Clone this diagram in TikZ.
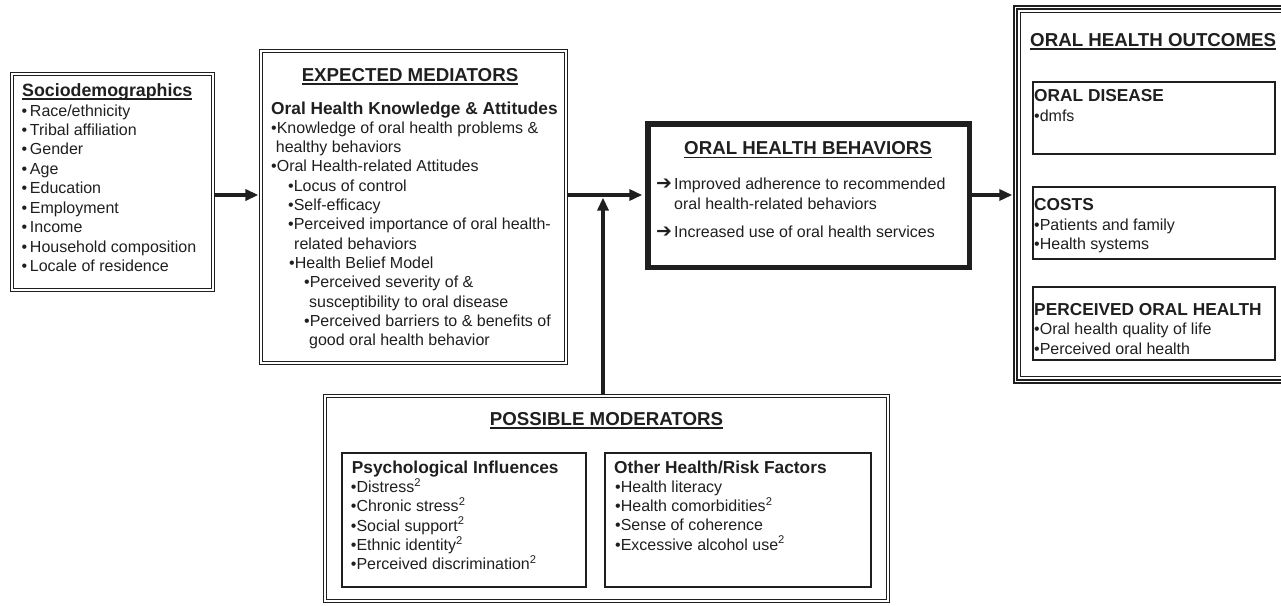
\documentclass[tikz,border=0pt]{standalone}
\usepackage{fontspec}
\setmainfont{Liberation Sans}
\newfontfamily\dvfont{DejaVu Sans}
\usetikzlibrary{arrows.meta}
\definecolor{ink}{gray}{0.12}
\newcommand\myul[1]{\setbox0\hbox{#1}\rlap{\rule[-3.6pt]{\wd0}{1.5pt}}\box0}
\begin{document}
\begin{tikzpicture}[x=1pt,y=-1pt,
  txt/.style={font=\fontsize{16}{19}\selectfont, text=ink, inner sep=0pt, anchor=base west},
  sub/.style={txt, font=\bfseries\fontsize{17.3}{20}\selectfont},
  ttl/.style={txt, anchor=base, font=\bfseries\fontsize{18.7}{22}\selectfont},
  glyph/.style={txt, font=\dvfont\bfseries\fontsize{19}{20}\selectfont},
  dblbox/.style={draw=ink, double=white, double distance=1.5pt, line width=1.2pt, inner sep=0pt},
  thickbox/.style={draw=ink, line width=5.5pt, inner sep=0pt},
  thinbox/.style={draw=ink, line width=1.2pt, inner sep=0pt},
  arr/.style={draw=ink, line width=4pt, -{Triangle[length=13pt,width=11pt]}}
]
\useasboundingbox (0,0) rectangle (1281,605);
\clip (0,0) rectangle (1281,605);

% ---------- boxes ----------
\node[dblbox, minimum width=201pt, minimum height=216pt] (soc) at (112.5,182) {};
\node[dblbox, minimum width=305pt, minimum height=312pt] (med) at (413.5,207) {};
\node[thickbox, minimum width=321.5pt, minimum height=143.5pt] (beh) at (808.5,195.5) {};
\node[draw=ink, line width=1.6pt, inner sep=0pt, minimum width=286pt, minimum height=377.4pt] (out) at (1156.9,194.5) {};
\draw[ink, line width=1.6pt] ([shift={(3.8,3.8)}]out.north west) rectangle ([shift={(-3.8,-3.8)}]out.south east);
\draw[ink, line width=1.1pt] ([shift={(7.4,7.4)}]out.north west) rectangle ([shift={(-7.4,-7.4)}]out.south east);
\node[thinbox, minimum width=242pt, minimum height=72pt] (od) at (1154,118) {};
\node[thinbox, minimum width=242pt, minimum height=72pt] (co) at (1154,223) {};
\node[thinbox, minimum width=242pt, minimum height=73pt] (po) at (1154,323.5) {};
\node[dblbox, minimum width=563pt, minimum height=205pt] (mod) at (606.5,498.5) {};
\node[thinbox, minimum width=244pt, minimum height=134pt] (psy) at (464,520) {};
\node[thinbox, minimum width=266pt, minimum height=134pt] (oth) at (738,520) {};

% ---------- Sociodemographics ----------
\node[txt, font=\bfseries\fontsize{17.8}{21}\selectfont] (soct) at (22,96) {\myul{Sociodemographics}};
\foreach \t [count=\i] in {{Race/ethnicity},{Tribal affiliation},{Gender},{Age},{Education},{Employment},{Income},{Household composition},{Locale of residence}}
  \node[txt] (soc\i) at (21.5,{116+19.45*(\i-1)}) {•\,\t};

% ---------- Expected mediators ----------
\node[ttl] (medt) at (410,81) {\myul{EXPECTED MEDIATORS}};
\node[sub] (meds) at (271,114) {Oral Health Knowledge \& Attitudes};
\foreach \xx/\t [count=\i] in {
  271/{•Knowledge of oral health problems \&},
  275.7/{healthy behaviors},
  271/{•Oral Health-related Attitudes},
  288/{•Locus of control},
  288/{•Self-efficacy},
  288/{•Perceived importance of oral health-},
  294/{related behaviors},
  289/{•Health Belief Model},
  304/{•Perceived severity of \&},
  309/{susceptibility to oral disease},
  304/{•Perceived barriers to \& benefits of},
  309/{good oral health behavior}}
  \node[txt] (med\i) at (\xx,{133+19.35*(\i-1)}) {\t};

% ---------- Oral health behaviors ----------
\node[ttl] (beht) at (808,154.5) {\myul{ORAL HEALTH BEHAVIORS}};
\node[glyph] (beha1) at (656,189.5) {➔};
\node[txt] (beh1) at (674,189.5) {Improved adherence to recommended};
\node[txt] (beh2) at (674,209.3) {oral health-related behaviors};
\node[glyph] (beha2) at (656,237.3) {➔};
\node[txt] (beh3) at (674,237.3) {Increased use of oral health services};

% ---------- Outcomes ----------
\node[ttl, anchor=base west] (outt) at (1030,46) {\myul{ORAL HEALTH OUTCOMES}};
\node[sub] (odt) at (1034,101.7) {ORAL DISEASE};
\node[txt] (od1) at (1034,121.7) {•dmfs};
\node[sub] (cot) at (1034,210) {COSTS};
\node[txt] (co1) at (1034,230) {•Patients and family};
\node[txt] (co2) at (1034,249) {•Health systems};
\node[sub] (pot) at (1034,315) {PERCEIVED ORAL HEALTH};
\node[txt] (po1) at (1034,334.5) {•Oral health quality of life};
\node[txt] (po2) at (1034,354) {•Perceived oral health};

% ---------- Moderators ----------
\node[ttl] (modt) at (606.5,425) {\myul{POSSIBLE MODERATORS}};
\node[sub] (psyt) at (351.7,473.5) {Psychological Influences};
\foreach \t [count=\i] in {{Distress},{Chronic stress},{Social support},{Ethnic identity},{Perceived discrimination}}
  \node[txt] (psy\i) at (350.7,{492.5+19.3*(\i-1)}) {•\t\textsuperscript{2}};
\node[sub] (otht) at (614,473) {Other Health/Risk Factors};
\node[txt] (oth1) at (615,492) {•Health literacy};
\node[txt] (oth2) at (615,511.4) {•Health comorbidities\textsuperscript{2}};
\node[txt] (oth3) at (615,530.8) {•Sense of coherence};
\node[txt] (oth4) at (615,550.2) {•Excessive alcohol use\textsuperscript{2}};

% ---------- connectors ----------
\coordinate (axis) at (0,195);
\coordinate (join) at (603,195);
\draw[arr, shorten >=2pt] (soc.east |- axis) -- (med.west |- axis);
\draw[arr, shorten >=2.7pt] (med.east |- axis) -- (beh.west |- axis);
\draw[arr, shorten >=2.6pt] (mod.north -| join) -- (join);
\draw[arr, shorten >=0.8pt] (beh.east |- axis) -- (out.west |- axis);
\end{tikzpicture}
\end{document}
